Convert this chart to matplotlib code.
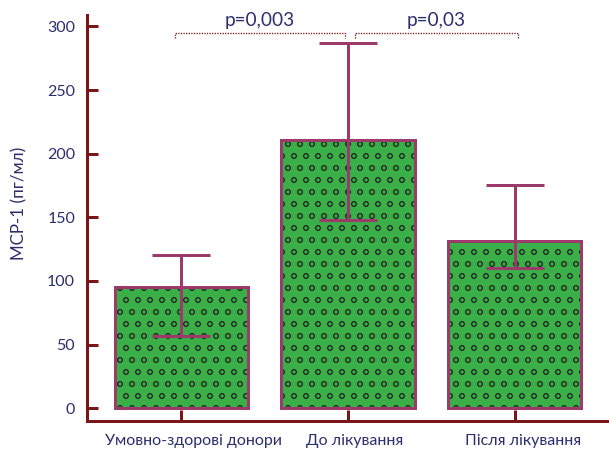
import matplotlib
matplotlib.use("Agg")
import matplotlib.pyplot as plt
from matplotlib.transforms import ScaledTranslation

groups = ["Умовно-здорові донори", "До лікування", "Після лікування"]
means = [95, 211, 131]
err_low = [38, 63, 21]
err_high = [25, 76, 44]
p_labels = ["p=0,003", "p=0,03"]

navy = "#2B2E6B"
axis_col = "#7A1518"
edge_col = "#9C3A6C"
green = "#3AAF48"

plt.rcParams["font.family"] = ["Lato", "DejaVu Sans"]
plt.rcParams["hatch.linewidth"] = 0.8
plt.rcParams["hatch.color"] = "#222222"

# 72 dpi so the hatch circles get the right spacing (1 pt = 1 px)
fig = plt.figure(figsize=(609 / 72, 454 / 72), dpi=72)
ax = fig.add_axes([0.143, 0.073, 0.857, 0.894])

x = range(len(groups))
ax.bar(x, means, width=0.8, color=green, edgecolor="#222222", hatch="o", linewidth=0, zorder=2)
ax.bar(x, means, width=0.8, facecolor="none", edgecolor=edge_col, linewidth=3, zorder=3)
ax.errorbar(x, means, yerr=[err_low, err_high], fmt="none", ecolor=edge_col,
            elinewidth=3, capsize=29, capthick=3, zorder=4)

# p-value brackets
brackets = [(-0.04, 0.98, 295), (1.04, 2.02, 295)]
for (x0, x1, y), lab in zip(brackets, p_labels):
    ax.plot([x0, x0, x1, x1], [y - 4, y, y, y - 4], color=axis_col, lw=1.3,
            ls=(0, (1, 1)), clip_on=False, zorder=5)
    ax.text((x0 + x1) / 2, y + 3, lab, ha="center", va="bottom", fontsize=19, color=navy)

ax.set_xlim(-0.565, 2.565)
ax.set_ylim(-10, 309)
ax.set_yticks([0, 50, 100, 150, 200, 250, 300])
ax.set_xticks(list(x))
ax.set_xticklabels(groups)

for s in ["top", "right"]:
    ax.spines[s].set_visible(False)
for s in ["left", "bottom"]:
    ax.spines[s].set_color(axis_col)
    ax.spines[s].set_linewidth(3)

ax.tick_params(axis="both", direction="in", length=11, width=3, color=axis_col,
               labelcolor=navy)
ax.tick_params(axis="x", pad=13, labelsize=16)
ax.tick_params(axis="y", pad=12, labelsize=16)
for lbl, dx in zip(ax.get_xticklabels(), [12, 7, 8]):
    lbl.set_transform(lbl.get_transform() + ScaledTranslation(dx / 72, 0, fig.dpi_scale_trans))
ax.set_ylabel("МСР-1 (пг/мл)", color=navy, fontsize=17)
ax.yaxis.set_label_coords(-0.114, 0.535)

fig.savefig("out.png", dpi=72)
